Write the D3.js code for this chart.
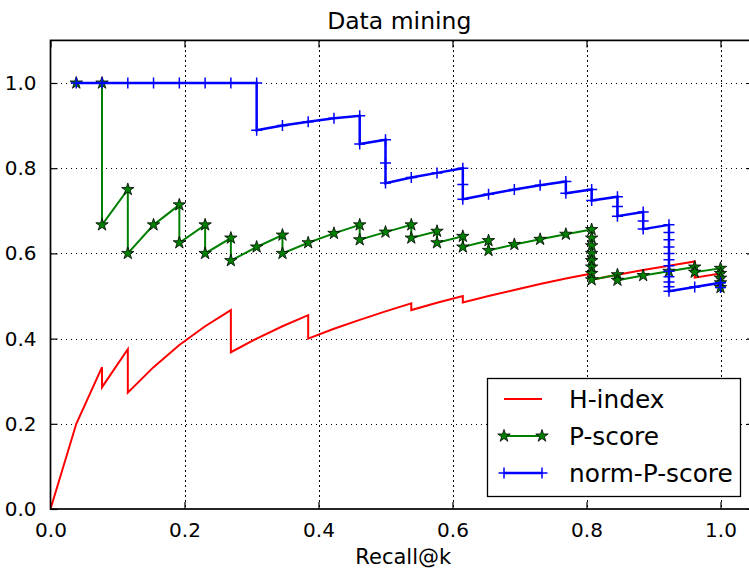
<!DOCTYPE html>
<html>
<head>
<meta charset="utf-8">
<script src="https://cdn.jsdelivr.net/npm/d3@7"></script>
<style>
  html, body { margin: 0; padding: 0; background: #fff; }
  svg { display: block; font-family: "DejaVu Sans", sans-serif; }
</style>
</head>
<body>
<svg id="chart" width="749" height="573"></svg>
<script>
// ---- data ----
const title = "Data mining";
const xLabel = "Recall@k";
const xTicks = [0.0, 0.2, 0.4, 0.6, 0.8, 1.0];
const yTicks = [0.0, 0.2, 0.4, 0.6, 0.8, 1.0];
const seriesNames = ["H-index", "P-score", "norm-P-score"];

const hIndexRecall = [0, 0.0385, 0.0769, 0.0769, 0.1154, 0.1154, 0.1538, 0.1923, 0.2308, 0.2692, 0.2692,
  0.3077, 0.3462, 0.3846, 0.3846, 0.4231, 0.4615, 0.5, 0.5385, 0.5385, 0.5769, 0.6154, 0.6154,
  0.6538, 0.6923, 0.7308, 0.7692, 0.8077, 0.8077, 0.8462, 0.8846, 0.9231, 0.9615, 0.9615, 1.0];
const hIndexValue = [0, 0.2, 0.333, 0.286, 0.375, 0.273, 0.333, 0.385, 0.429, 0.467, 0.368,
  0.4, 0.429, 0.455, 0.4, 0.423, 0.444, 0.464, 0.483, 0.467, 0.484, 0.5, 0.485,
  0.5, 0.514, 0.528, 0.541, 0.553, 0.538, 0.55, 0.561, 0.571, 0.581, 0.543, 0.553];

const pScoreRecall = [0.0385, 0.0769, 0.0769, 0.1154, 0.1154, 0.1538, 0.1923, 0.1923, 0.2308, 0.2308,
  0.2692, 0.2692, 0.3077, 0.3462, 0.3462, 0.3846, 0.4231, 0.4615, 0.4615, 0.5,
  0.5385, 0.5385, 0.5769, 0.5769, 0.6154, 0.6154, 0.6538, 0.6538, 0.6923, 0.7308,
  0.7692, 0.8077, 0.8077, 0.8077, 0.8077, 0.8077, 0.8077, 0.8077, 0.8077, 0.8462,
  0.8462, 0.8846, 0.9231, 0.9615, 0.9615, 1.0, 1.0, 1.0, 1.0, 1.0];
const pScoreValue = [1.0, 1.0, 0.667, 0.75, 0.6, 0.667, 0.714, 0.625, 0.667, 0.6,
  0.636, 0.583, 0.615, 0.643, 0.6, 0.625, 0.647, 0.667, 0.632, 0.65,
  0.667, 0.636, 0.652, 0.625, 0.64, 0.615, 0.63, 0.607, 0.621, 0.633,
  0.645, 0.656, 0.636, 0.618, 0.6, 0.583, 0.568, 0.553, 0.538, 0.55,
  0.537, 0.548, 0.558, 0.568, 0.556, 0.565, 0.553, 0.542, 0.531, 0.52];

const normPRecall = [0.0385, 0.0769, 0.1154, 0.1538, 0.1923, 0.2308, 0.2692, 0.3077, 0.3077, 0.3462,
  0.3846, 0.4231, 0.4615, 0.4615, 0.5, 0.5, 0.5, 0.5385, 0.5769, 0.6154,
  0.6154, 0.6154, 0.6538, 0.6923, 0.7308, 0.7692, 0.7692, 0.8077, 0.8077, 0.8462,
  0.8462, 0.8462, 0.8846, 0.8846, 0.8846, 0.9231, 0.9231, 0.9231, 0.9231, 0.9231,
  0.9231, 0.9231, 0.9231, 0.9231, 0.9231, 0.9231, 0.9231, 0.9615, 1.0, 1.0];
const normPValue = [1.0, 1.0, 1.0, 1.0, 1.0, 1.0, 1.0, 1.0, 0.889, 0.9,
  0.909, 0.917, 0.923, 0.857, 0.867, 0.8125, 0.765, 0.778, 0.789, 0.8,
  0.762, 0.727, 0.739, 0.75, 0.76, 0.769, 0.741, 0.75, 0.724, 0.733,
  0.71, 0.6875, 0.697, 0.676, 0.657, 0.667, 0.649, 0.632, 0.615, 0.6,
  0.585, 0.571, 0.558, 0.545, 0.533, 0.522, 0.511, 0.521, 0.531, 0.52];

// ---- layout ----
const svg = d3.select("#chart");
const W = 749, H = 573;
const plot = { left: 50.5, right: 754, top: 40.4, bottom: 509 };
const x = d3.scaleLinear().domain([0, 1.05]).range([plot.left, plot.right]);
const y = d3.scaleLinear().domain([0, 1.1]).range([plot.bottom, plot.top]);

svg.append("rect").attr("width", W).attr("height", H).attr("fill", "#fff");

svg.append("defs").append("clipPath").attr("id", "clip")
  .append("rect").attr("x", plot.left).attr("y", plot.top)
  .attr("width", plot.right - plot.left).attr("height", plot.bottom - plot.top);

// grid
const grid = svg.append("g").attr("stroke", "#000").attr("stroke-width", 1)
  .attr("stroke-dasharray", "1.5,3.5").attr("shape-rendering", "crispEdges");
grid.selectAll(".gx").data(xTicks.filter(d => d > 0)).join("line")
  .attr("x1", d => Math.round(x(d)) + 0.5).attr("x2", d => Math.round(x(d)) + 0.5)
  .attr("y1", plot.top).attr("y2", plot.bottom);
grid.selectAll(".gy").data(yTicks.filter(d => d > 0)).join("line")
  .attr("y1", d => Math.round(y(d)) + 0.5).attr("y2", d => Math.round(y(d)) + 0.5)
  .attr("x1", plot.left).attr("x2", plot.right);

// axes (inward ticks on all four sides)
const tickLen = 7;
const axB = svg.append("g").attr("transform", `translate(0,${plot.bottom})`)
  .call(d3.axisBottom(x).tickValues(xTicks).tickFormat(d3.format(".1f")).tickSizeInner(-tickLen).tickSizeOuter(0).tickPadding(14));
const axT = svg.append("g").attr("transform", `translate(0,${plot.top})`)
  .call(d3.axisTop(x).tickValues(xTicks).tickFormat("").tickSizeInner(-tickLen).tickSizeOuter(0));
const axL = svg.append("g").attr("transform", `translate(${plot.left},0)`)
  .call(d3.axisLeft(y).tickValues(yTicks).tickFormat(d3.format(".1f")).tickSizeInner(-tickLen).tickSizeOuter(0).tickPadding(14));
const axR = svg.append("g").attr("transform", `translate(${plot.right},0)`)
  .call(d3.axisRight(y).tickValues(yTicks).tickFormat("").tickSizeInner(-tickLen).tickSizeOuter(0));
[axB, axT, axL, axR].forEach(a => {
  a.select(".domain").remove();
  a.selectAll(".tick line").attr("stroke", "#000").attr("stroke-width", 1.2);
  a.selectAll(".tick text").attr("fill", "#000").attr("font-size", 20)
    .attr("font-family", "DejaVu Sans, sans-serif");
});

// series
const g = svg.append("g").attr("clip-path", "url(#clip)");
const hData = hIndexRecall.map((r, i) => [r, hIndexValue[i]]);
const pData = pScoreRecall.map((r, i) => [r, pScoreValue[i]]);
const nData = normPRecall.map((r, i) => [r, normPValue[i]]);
const line = d3.line().x(d => x(d[0])).y(d => y(d[1]));

g.append("path").datum(hData).attr("d", line)
  .attr("fill", "none").attr("stroke", "#ff0000").attr("stroke-width", 2).attr("stroke-linejoin", "miter");

g.append("path").datum(pData).attr("d", line)
  .attr("fill", "none").attr("stroke", "#008000").attr("stroke-width", 2);
const star = d3.symbol().type(d3.symbolStar).size(48);
g.selectAll(".star").data(pData).join("path")
  .attr("transform", d => `translate(${x(d[0])},${y(d[1])})`)
  .attr("d", star).attr("fill", "#008000").attr("stroke", "#000").attr("stroke-width", 0.8);

g.append("path").datum(nData).attr("d", line)
  .attr("fill", "none").attr("stroke", "#0000ff").attr("stroke-width", 2.5);
const plusHalf = 5.5;
g.selectAll(".plus").data(nData).join("path")
  .attr("d", d => {
    const cx = x(d[0]), cy = y(d[1]);
    return `M${cx - plusHalf},${cy}H${cx + plusHalf}M${cx},${cy - plusHalf}V${cy + plusHalf}`;
  })
  .attr("fill", "none").attr("stroke", "#0000ff").attr("stroke-width", 1.5);

// frame
svg.append("rect").attr("x", plot.left).attr("y", plot.top)
  .attr("width", plot.right - plot.left).attr("height", plot.bottom - plot.top)
  .attr("fill", "none").attr("stroke", "#000").attr("stroke-width", 1.7);

// title and label
const cx = (plot.left + plot.right) / 2;
svg.append("text").attr("x", cx - 3).attr("y", 29).attr("text-anchor", "middle")
  .attr("font-size", 23.5).attr("fill", "#000").text(title);
svg.append("text").attr("x", cx + 1).attr("y", 564).attr("text-anchor", "middle")
  .attr("font-size", 21).attr("fill", "#000").text(xLabel);

// legend
const leg = svg.append("g");
const lb = { x: 487.5, y: 378.5, w: 253, h: 118 };
leg.append("rect").attr("x", lb.x).attr("y", lb.y).attr("width", lb.w).attr("height", lb.h)
  .attr("fill", "#fff").attr("stroke", "#000").attr("stroke-width", 1.3);
const rowsY = [399, 436, 473];
const lx1 = 504, lx2 = 542;
const legColors = ["#ff0000", "#008000", "#0000ff"];
const legWidths = [2, 2, 2.5];
seriesNames.forEach((name, i) => {
  const yy = rowsY[i];
  leg.append("line").attr("x1", lx1).attr("x2", lx2).attr("y1", yy).attr("y2", yy)
    .attr("stroke", legColors[i]).attr("stroke-width", legWidths[i]);
  if (i === 1) {
    [lx1, lx2].forEach(px => leg.append("path").attr("transform", `translate(${px},${yy})`)
      .attr("d", star).attr("fill", "#008000").attr("stroke", "#000").attr("stroke-width", 0.8));
  }
  if (i === 2) {
    [lx1, lx2].forEach(px => leg.append("path")
      .attr("d", `M${px - plusHalf},${yy}H${px + plusHalf}M${px},${yy - plusHalf}V${yy + plusHalf}`)
      .attr("stroke", "#0000ff").attr("stroke-width", 1.5));
  }
  leg.append("text").attr("x", 569).attr("y", yy + 9).attr("font-size", 24.8)
    .attr("fill", "#000").text(name);
});
</script>
</body>
</html>
